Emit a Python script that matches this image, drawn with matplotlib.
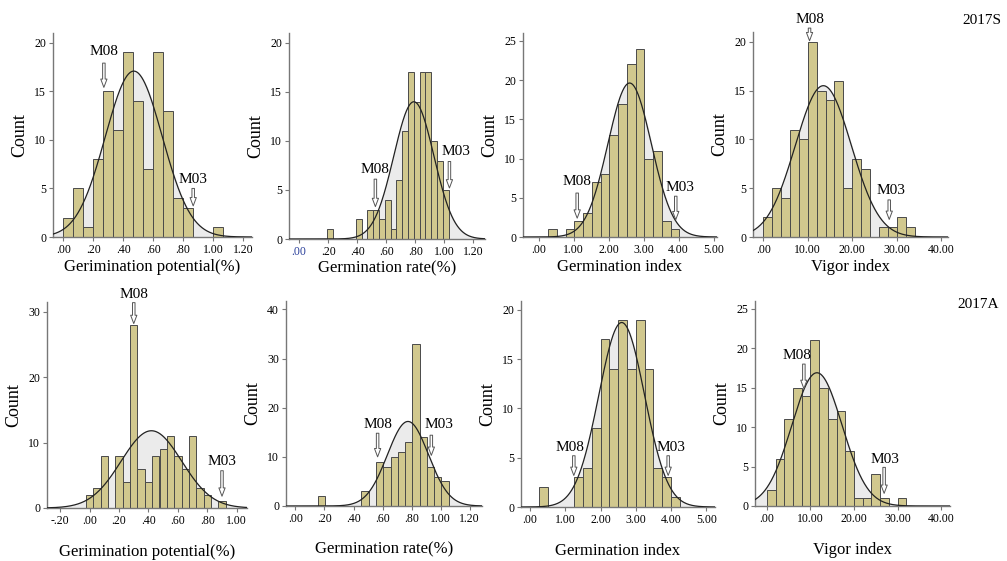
import numpy as np
import matplotlib.pyplot as plt

plt.rcParams['font.family'] = ['Liberation Serif', 'DejaVu Serif']

# ---- 2017S (top row) ----
gp_s_start, gp_s_width = 0.0, 1 / 15
gp_s_counts = [2, 5, 1, 8, 15, 11, 19, 14, 7, 19, 13, 4, 3, 0, 0, 1]
gp_s_fit = (0.47, 0.19)

gr_s_start, gr_s_width = 0.19, 0.04
gr_s_counts = [1, 0, 0, 0, 0, 2, 0, 3, 3, 2, 4, 1, 6, 11, 17, 14, 17, 17, 10, 8, 5]
gr_s_fit = (0.79, 0.138)

gi_s_start, gi_s_width = 0.27, 0.25
gi_s_counts = [1, 0, 1, 2, 3, 7, 8, 13, 17, 22, 24, 10, 11, 2, 1]
gi_s_fit = (2.6, 0.62)

vi_s_start, vi_s_width = 0.0, 2.0
vi_s_counts = [2, 5, 4, 11, 10, 20, 15, 14, 16, 5, 8, 7, 0, 1, 1, 2, 1]
vi_s_fit = (13.5, 6.28)

# ---- 2017A (bottom row) ----
gp_a_start, gp_a_width = -0.025, 0.05
gp_a_counts = [2, 3, 8, 0, 8, 4, 28, 6, 4, 8, 9, 11, 8, 6, 11, 3, 2, 0, 1]
gp_a_fit = (0.42, 0.206)

gr_a_start, gr_a_width = 0.155, 0.05
gr_a_counts = [2, 0, 0, 0, 0, 0, 3, 0, 9, 8, 10, 11, 13, 33, 14, 8, 6, 5]
gr_a_fit = (0.775, 0.1415)

gi_a_start, gi_a_width = 0.25, 0.25
gi_a_counts = [2, 0, 0, 0, 3, 4, 8, 17, 14, 19, 14, 19, 14, 4, 3, 1]
gi_a_fit = (2.6, 0.65)

vi_a_start, vi_a_width = 0.0, 2.0
vi_a_counts = [2, 6, 11, 15, 14, 21, 15, 11, 12, 7, 1, 1, 4, 1, 0, 1]
vi_a_fit = (11.5, 5.76)

# marker positions: (label, arrow x, text x, text y, arrow top, arrow tip)
gp_s_marks = [('M08', 0.27, 0.27, 18.4, 17.9, 15.4), ('M03', 0.867, 0.867, 5.3, 5.0, 3.2)]
gr_s_marks = [('M08', 0.525, 0.525, 6.4, 6.1, 3.3), ('M03', 1.035, 1.08, 8.3, 7.9, 5.2)]
gi_s_marks = [('M08', 1.1, 1.1, 6.2, 5.6, 2.4), ('M03', 3.92, 4.05, 5.5, 5.2, 2.2)]
vi_s_marks = [('M08', 10.4, 10.4, 21.6, 21.4, 20.1), ('M03', 28.3, 28.8, 4.1, 3.8, 1.8)]
gp_a_marks = [('M08', 0.30, 0.30, 31.7, 31.4, 28.2), ('M03', 0.90, 0.90, 6.1, 5.7, 1.8)]
gr_a_marks = [('M08', 0.566, 0.566, 15.3, 14.8, 10.0), ('M03', 0.936, 0.99, 15.3, 14.4, 10.3)]
gi_a_marks = [('M08', 1.24, 1.12, 5.4, 5.2, 3.2), ('M03', 3.92, 4.0, 5.4, 5.2, 3.2)]
vi_a_marks = [('M08', 8.5, 7.0, 18.3, 18.0, 14.9), ('M03', 26.9, 27.1, 5.1, 4.9, 1.6)]

xlabels = ['Gerimination potential(%)', 'Germination rate(%)', 'Germination index', 'Vigor index']

panels = [
    (gp_s_start, gp_s_width, gp_s_counts, gp_s_fit, gp_s_marks, (-0.07, 1.26), (0, 21), np.arange(0, 1.21, 0.2), np.arange(0, 21, 5)),
    (gr_s_start, gr_s_width, gr_s_counts, gr_s_fit, gr_s_marks, (-0.07, 1.28), (0, 21), np.arange(0, 1.21, 0.2), np.arange(0, 21, 5)),
    (gi_s_start, gi_s_width, gi_s_counts, gi_s_fit, gi_s_marks, (-0.45, 5.1), (0, 26), np.arange(0, 5.1, 1), np.arange(0, 26, 5)),
    (vi_s_start, vi_s_width, vi_s_counts, vi_s_fit, vi_s_marks, (-2.3, 41.5), (0, 21), np.arange(0, 41, 10), np.arange(0, 21, 5)),
    (gp_a_start, gp_a_width, gp_a_counts, gp_a_fit, gp_a_marks, (-0.29, 1.07), (0, 31.5), np.arange(-0.2, 1.01, 0.2), np.arange(0, 31, 10)),
    (gr_a_start, gr_a_width, gr_a_counts, gr_a_fit, gr_a_marks, (-0.065, 1.285), (0, 41.7), np.arange(0, 1.21, 0.2), np.arange(0, 41, 10)),
    (gi_a_start, gi_a_width, gi_a_counts, gi_a_fit, gi_a_marks, (-0.26, 5.25), (0, 20.9), np.arange(0, 5.1, 1), np.arange(0, 21, 5)),
    (vi_a_start, vi_a_width, vi_a_counts, vi_a_fit, vi_a_marks, (-2.7, 42), (0, 26), np.arange(0, 41, 10), np.arange(0, 26, 5)),
]

# axes boxes in pixels: left, top, right, bottom
boxes = [(53, 33, 252, 237), (289, 33, 485, 239), (523, 33, 717, 237), (753, 32, 948, 237),
         (47, 302, 247, 508), (286, 301, 482, 506), (521, 301, 715, 507), (755, 301, 950, 506)]

W, H = 1007, 561
fig = plt.figure(figsize=(W / 100, H / 100), dpi=100)


def spss_fmt(v):
    s = '%.2f' % v
    if s.startswith('0.'):
        s = s[1:]
    elif s.startswith('-0.'):
        s = '-' + s[2:]
    return s


for i, (start, width, counts, fit, marks, xlim, ylim, xt, yt) in enumerate(panels):
    l, t, r, b = boxes[i]
    ax = fig.add_axes([l / W, 1 - b / H, (r - l) / W, (b - t) / H])
    counts = np.array(counts)
    lefts = start + width * np.arange(len(counts))

    mu, sd = fit
    xs = np.linspace(xlim[0], xlim[1], 400)
    ys = counts.sum() * width * np.exp(-0.5 * ((xs - mu) / sd) ** 2) / (sd * np.sqrt(2 * np.pi))
    ax.fill_between(xs, 0, ys, color='#ebebeb', zorder=1)
    ax.bar(lefts, counts, width=width, align='edge', color='#d1c88e', edgecolor='#4a4a4a', linewidth=0.7, zorder=2)
    ax.plot(xs, ys, color='#222222', lw=0.9, zorder=3)

    for name, ax_x, tx, ty, y0, y1 in marks:
        ax.text(tx, ty, name, ha='center', va='bottom', fontsize=11, zorder=5, clip_on=False)
        ax.annotate('', xy=(ax_x, y1), xytext=(ax_x, y0),
                    arrowprops=dict(arrowstyle='simple,head_width=0.45,head_length=0.6,tail_width=0.18',
                                    fc='white', ec='#555555', lw=0.7, shrinkA=0, shrinkB=0),
                    zorder=5, annotation_clip=False)

    ax.set_xlim(*xlim)
    ax.set_ylim(*ylim)
    ax.set_xticks(xt)
    ax.set_xticklabels([spss_fmt(v) for v in xt])
    ax.set_yticks(yt)
    ax.set_yticklabels([str(int(v)) for v in yt])
    for side in ['top', 'right']:
        ax.spines[side].set_visible(False)
    for side in ['left', 'bottom']:
        ax.spines[side].set_color('#777777')
        ax.spines[side].set_linewidth(1.0)
    ax.tick_params(axis='both', labelsize=8.5, length=3, width=0.8, color='#777777', pad=2)
    ax.set_facecolor('none')
    ax.set_ylabel('Count', fontsize=13, labelpad=4)
    ax.set_xlabel(xlabels[i % 4], fontsize=12, labelpad=2 if i < 4 else 12)

    if i == 1:
        ax.get_xticklabels()[0].set_color('#2a3f9a')

fig.text(982 / W, 1 - 20 / H, '2017S', fontsize=11, ha='center', va='center')
fig.text(978 / W, 1 - 305 / H, '2017A', fontsize=11, ha='center', va='center')

plt.savefig('out.png', dpi=100)
